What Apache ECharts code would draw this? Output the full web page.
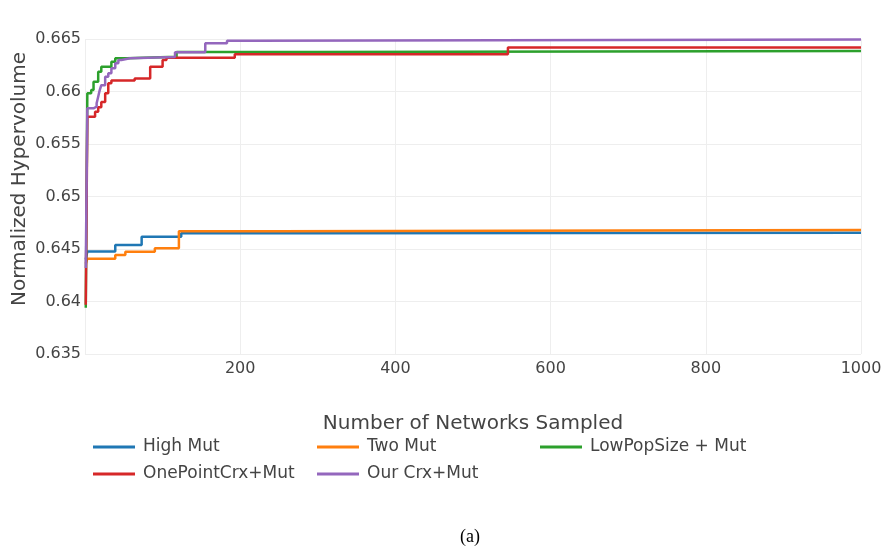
<!DOCTYPE html>
<html>
<head>
<meta charset="utf-8">
<script src="https://cdn.jsdelivr.net/npm/echarts@6/dist/echarts.min.js"></script>
<style>html,body{margin:0;padding:0;background:#fff;}#c{width:885px;height:552px;}</style>
</head>
<body>
<div id="c"></div>
<script>
const seriesNames = ['High Mut', 'Two Mut', 'LowPopSize + Mut', 'OnePointCrx+Mut', 'Our Crx+Mut'];
const colors = ['#1f77b4', '#ff7f0e', '#2ca02c', '#d62728', '#9467bd'];
const xTicks = [0, 200, 400, 600, 800, 1000];
const yTicks = [0.635, 0.64, 0.645, 0.65, 0.655, 0.66, 0.665];

const highMut = [[1,0.6440],[3,0.64476],[39,0.64538],[73,0.64617],[124,0.64650],[300,0.64655],[1000,0.64655]];
const twoMut = [[1,0.6436],[3,0.64408],[39,0.64443],[52,0.64474],[90,0.64506],[121,0.64670],[250,0.64680],[1000,0.64680]];
const lowPop = [[1,0.6394],[3,0.65983],[8,0.66014],[11,0.66093],[17,0.66189],[21,0.66236],[34,0.66284],[39,0.66316],[54,0.66332],[118,0.66376],[300,0.66386],[1000,0.66386]];
const onePoint = [[1,0.6397],[3,0.65760],[13,0.65807],[17,0.65850],[21,0.65900],[26,0.65983],[30,0.66078],[34,0.66105],[64,0.66125],[84,0.66236],[100,0.66300],[105,0.66322],[193,0.66354],[545,0.66418],[1000,0.66420]];
const ourCrx = [[1,0.6432],[3,0.65840],[11,0.65855],[15,0.65888],[17,0.65950],[19,0.66014],[21,0.66060],[26,0.66141],[30,0.66173],[34,0.66221],[39,0.66268],[43,0.66300],[47,0.66316],[58,0.66328],[116,0.66373],[155,0.66459],[183,0.66484],[221,0.66495],[1000,0.66495]];

const seriesData = [highMut, twoMut, lowPop, onePoint, ourCrx];

const chart = echarts.init(document.getElementById('c'));
const font = 'DejaVu Sans';
function legendCol(names, left) {
  return {
    data: names, left: left, top: 432, orient: 'vertical', itemGap: 7,
    icon: 'rect', itemWidth: 42, itemHeight: 3,
    textStyle: {fontFamily: font, fontSize: 17, color: '#444', lineHeight: 20, padding: [0,0,0,3]},
    selectedMode: false
  };
}
chart.setOption({
  animation: false,
  backgroundColor: '#fff',
  color: colors,
  grid: {left: 85, right: 24, top: 39, bottom: 198},
  xAxis: {
    type: 'value', min: xTicks[0], max: xTicks[xTicks.length-1], interval: 200,
    name: 'Number of Networks Sampled', nameLocation: 'middle', nameGap: 60,
    nameTextStyle: {fontFamily: font, fontSize: 20, color: '#444'},
    axisLine: {show: false}, axisTick: {show: false},
    axisLabel: {fontFamily: font, fontSize: 16, color: '#444', margin: 7,
      formatter: v => (v === 0 ? '' : String(v))},
    splitLine: {show: true, lineStyle: {color: '#eeeeee', width: 1}}
  },
  yAxis: {
    type: 'value', min: yTicks[0], max: yTicks[yTicks.length-1], interval: 0.005,
    axisLine: {show: false}, axisTick: {show: false},
    axisLabel: {fontFamily: font, fontSize: 16, color: '#444', margin: 4,
      formatter: v => String(+v.toFixed(3))},
    splitLine: {show: true, lineStyle: {color: '#eeeeee', width: 1}}
  },
  legend: [
    legendCol([seriesNames[0], seriesNames[3]], 88),
    legendCol([seriesNames[1], seriesNames[4]], 312),
    legendCol([seriesNames[2]], 535)
  ],
  graphic: [
    {type: 'text', x: 20, y: 179, rotation: Math.PI/2,
      style: {text: 'Normalized Hypervolume', font: '20px "DejaVu Sans"', fill: '#444', textAlign: 'center', textVerticalAlign: 'middle'}},
    {type: 'text', x: 470, y: 537,
      style: {text: '(a)', font: '18px "Liberation Serif"', fill: '#000', textAlign: 'center', textVerticalAlign: 'middle'}}
  ],
  series: seriesNames.map((n, i) => ({
    name: n, type: 'line', step: 'end', data: seriesData[i],
    showSymbol: false, symbol: 'none',
    lineStyle: {width: 2.5, color: colors[i]}, itemStyle: {color: colors[i]}
  }))
});
</script>
</body>
</html>
